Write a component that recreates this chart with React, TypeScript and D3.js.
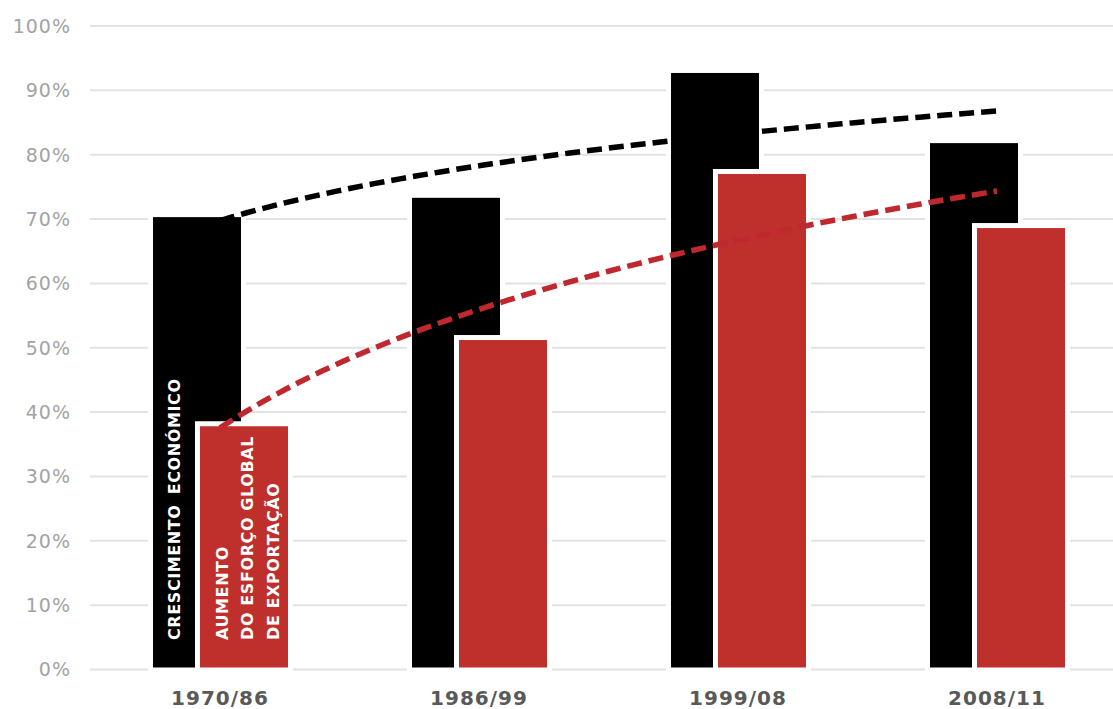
import React from 'react';
import * as d3 from 'd3';

const categories = ['1970/86', '1986/99', '1999/08', '2008/11'];
const crescimento = [0.703, 0.733, 0.927, 0.818];
const esforco = [0.378, 0.512, 0.77, 0.686];
const yTicks = [0, 0.1, 0.2, 0.3, 0.4, 0.5, 0.6, 0.7, 0.8, 0.9, 1.0];
const labelBlack = 'CRESCIMENTO ECONÓMICO';
const labelRed = ['AUMENTO', 'DO ESFORÇO GLOBAL', 'DE EXPORTAÇÃO'];

const W = 1113;
const H = 709;
const BLACK = '#000000';
const RED = '#bf2f2b';
const RED_TREND = '#c0282f';

function logFit(vals: number[]) {
  const xs = vals.map((_, i) => Math.log(i + 1));
  const mx = d3.mean(xs)!;
  const my = d3.mean(vals)!;
  let sxy = 0, sxx = 0;
  xs.forEach((x, i) => { sxy += (x - mx) * (vals[i] - my); sxx += (x - mx) * (x - mx); });
  const b = sxy / sxx;
  const a = my - b * mx;
  return (t: number) => a + b * Math.log(t);
}

export default function App() {
  const x = d3.scaleBand<string>().domain(categories).range([90.5, 1126.5]).padding(0);
  const y = d3.scaleLinear().domain([0, 1]).range([669.5, 26]);
  const cx = (c: string) => x(c)! + x.bandwidth() / 2;
  const tx = d3.scaleLinear().domain([1, categories.length]).range([cx(categories[0]), cx(categories[categories.length - 1])]);

  const blackL = -67, blackR = 21, redL = -20, redR = 68, pad = 5;

  const trend = (vals: number[]) => {
    const f = logFit(vals);
    const pts = d3.range(1, categories.length + 0.0001, 0.05).map(t => [tx(t), y(f(t))] as [number, number]);
    return d3.line()(pts)!;
  };

  const c0 = cx(categories[0]);
  const blackTextX = (c0 + blackL + c0 + redL - pad) / 2;

  return (
    <svg width={W} height={H} style={{ position: 'absolute', left: 0, top: 0, background: '#fff' }}>
      {yTicks.map(t => (
        <g key={t}>
          <line x1={90} x2={1126} y1={y(t)} y2={y(t)} stroke="#e2e2e2" strokeWidth={2} />
          <text x={71} y={y(t)} dy="0.36em" textAnchor="end" fontFamily="DejaVu Sans, Verdana, sans-serif"
            fontSize={19} letterSpacing={1} fill="#a3a3a3">{Math.round(t * 100)}%</text>
        </g>
      ))}
      {categories.map((c, i) => (
        <rect key={'bw' + c} x={cx(c) + blackL - pad} width={blackR - blackL + 2 * pad}
          y={y(crescimento[i]) - pad} height={y(0) - y(crescimento[i]) + 2 * pad} fill="#fff" />
      ))}
      {categories.map((c, i) => (
        <rect key={'b' + c} x={cx(c) + blackL} width={blackR - blackL}
          y={y(crescimento[i])} height={y(0) - y(crescimento[i]) - 2} fill={BLACK} />
      ))}
      {categories.map((c, i) => (
        <rect key={'rw' + c} x={cx(c) + redL - pad} width={redR - redL + 2 * pad}
          y={y(esforco[i]) - pad} height={y(0) - y(esforco[i]) + 2 * pad} fill="#fff" />
      ))}
      {categories.map((c, i) => (
        <rect key={'r' + c} x={cx(c) + redL} width={redR - redL}
          y={y(esforco[i])} height={y(0) - y(esforco[i]) - 2} fill={RED} />
      ))}
      <path d={trend(crescimento)} fill="none" stroke={BLACK} strokeWidth={5.5} strokeDasharray="15 7" />
      <path d={trend(esforco)} fill="none" stroke={RED_TREND} strokeWidth={5.5} strokeDasharray="15 7" />
      <text transform={`translate(${blackTextX},640) rotate(-90)`} dy="0.36em" fill="#fff"
        fontFamily="DejaVu Sans, Verdana, sans-serif" fontWeight="bold" fontSize={16} letterSpacing={0.6}
        wordSpacing={4}>{labelBlack}</text>
      {labelRed.map((l, i) => (
        <text key={l} transform={`translate(${c0 + 2 + i * 25.5},640) rotate(-90)`} dy="0.36em" fill="#fff"
          fontFamily="DejaVu Sans, Verdana, sans-serif" fontWeight="bold" fontSize={16} letterSpacing={0.6}>{l}</text>
      ))}
      {categories.map(c => (
        <text key={'xl' + c} x={cx(c)} y={705} textAnchor="middle" fill="#595959"
          fontFamily="DejaVu Sans, Verdana, sans-serif" fontWeight="bold" fontSize={20} letterSpacing={1}>{c}</text>
      ))}
    </svg>
  );
}
